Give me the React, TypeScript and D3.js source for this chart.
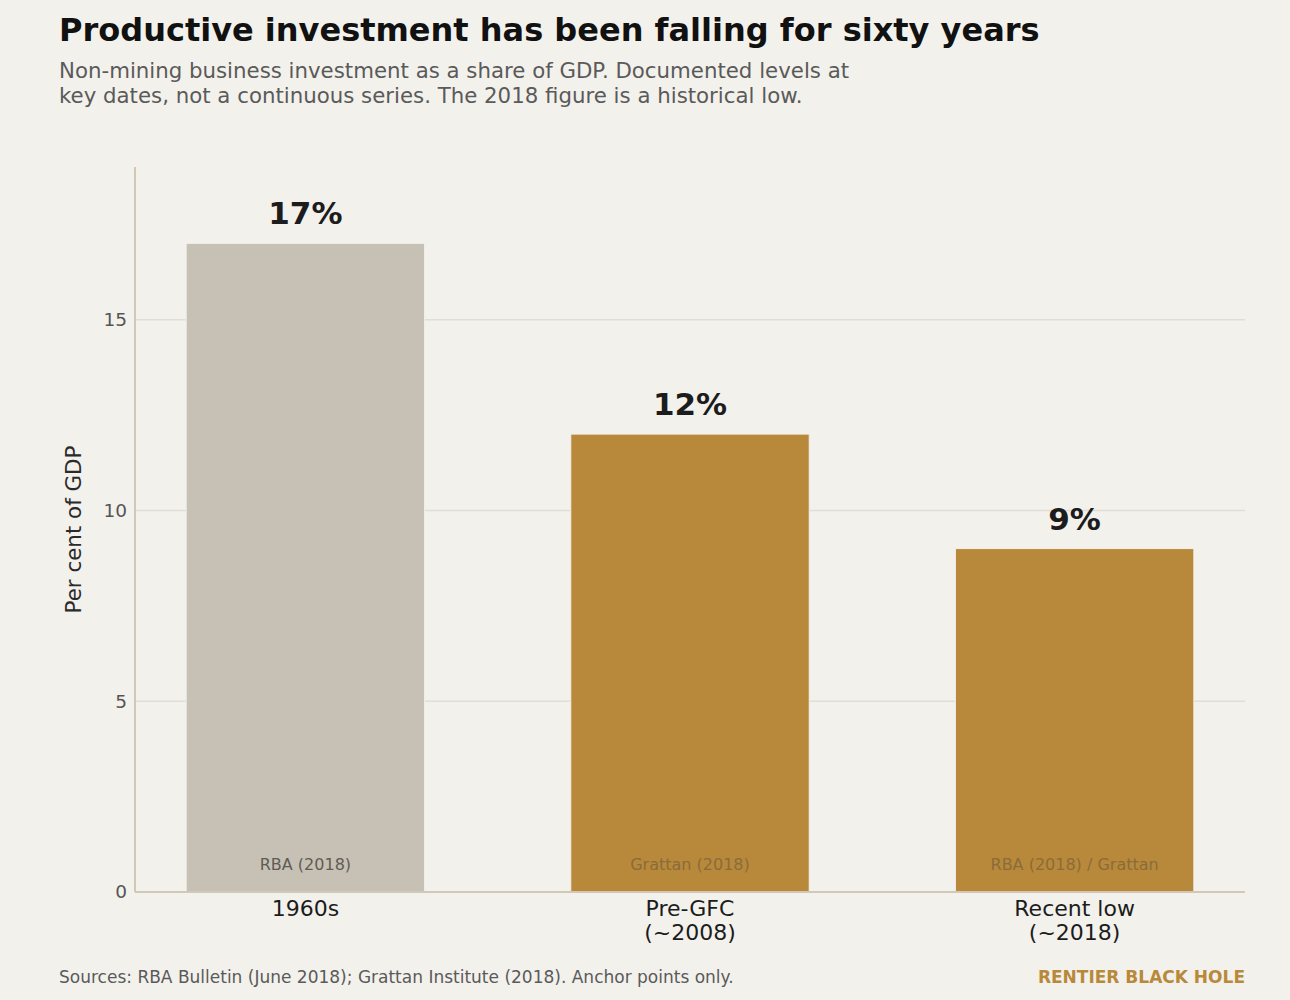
import { useEffect, useRef } from 'react';
import * as d3 from 'd3';

const categories = ['1960s', 'Pre-GFC\n(~2008)', 'Recent low\n(~2018)'];
const values = [17, 12, 9];
const valueLabels = ['17%', '12%', '9%'];
const sources = ['RBA (2018)', 'Grattan (2018)', 'RBA (2018) / Grattan'];
const yTicks = [0, 5, 10, 15];

export default function App() {
  const svgRef = useRef<SVGSVGElement>(null);

  useEffect(() => {
    if (!svgRef.current) return;
    d3.select(svgRef.current).selectAll('*').remove();

    document.body.style.margin = '0';
    document.body.style.background = '#f3f1ec';

    const width = 1290;
    const height = 1000;
    const margin = { top: 167, right: 45, bottom: 108, left: 135 };
    const font = '"DejaVu Sans", sans-serif';

    const svg = d3
      .select(svgRef.current)
      .attr('width', width)
      .attr('height', height)
      .style('display', 'block')
      .style('font-family', font);

    svg.append('rect').attr('width', width).attr('height', height).attr('fill', '#f3f1ec');

    const x = d3
      .scaleBand<number>()
      .domain(d3.range(categories.length))
      .range([margin.left, width - margin.right])
      .paddingInner(0.38)
      .paddingOuter(0.133);

    const y = d3
      .scaleLinear()
      .domain([0, 19])
      .range([height - margin.bottom, margin.top]);

    // gridlines
    svg
      .append('g')
      .selectAll('line')
      .data(yTicks.filter((t) => t > 0))
      .join('line')
      .attr('x1', margin.left)
      .attr('x2', width - margin.right)
      .attr('y1', (d) => y(d))
      .attr('y2', (d) => y(d))
      .attr('stroke', '#e2ded6')
      .attr('stroke-width', 1.5);

    // bars
    svg
      .append('g')
      .selectAll('rect')
      .data(values)
      .join('rect')
      .attr('x', (_, i) => x(i)!)
      .attr('width', x.bandwidth())
      .attr('y', (d) => y(d))
      .attr('height', (d) => y(0) - y(d))
      .attr('fill', (_, i) => (i === 0 ? '#c6c1b4' : '#b8893b'))
      .attr('stroke', '#f3f1ec')
      .attr('stroke-width', 1);

    // value labels
    svg
      .append('g')
      .selectAll('text')
      .data(values)
      .join('text')
      .attr('x', (_, i) => x(i)! + x.bandwidth() / 2)
      .attr('y', (d) => y(d) - 19)
      .attr('text-anchor', 'middle')
      .attr('font-size', 31)
      .attr('font-weight', 'bold')
      .attr('fill', '#1c1c1c')
      .text((_, i) => valueLabels[i]);

    // source labels inside bars
    svg
      .append('g')
      .selectAll('text')
      .data(sources)
      .join('text')
      .attr('x', (_, i) => x(i)! + x.bandwidth() / 2)
      .attr('y', y(0) - 22)
      .attr('text-anchor', 'middle')
      .attr('font-size', 16)
      .attr('fill', (_, i) => (i === 0 ? '#5f5b55' : '#8a6c3a'))
      .text((d) => d);

    // y axis line + baseline
    svg
      .append('line')
      .attr('x1', margin.left)
      .attr('x2', margin.left)
      .attr('y1', margin.top)
      .attr('y2', y(0))
      .attr('stroke', '#d3c7b8')
      .attr('stroke-width', 2);
    svg
      .append('line')
      .attr('x1', margin.left)
      .attr('x2', width - margin.right)
      .attr('y1', y(0))
      .attr('y2', y(0))
      .attr('stroke', '#d3c7b8')
      .attr('stroke-width', 2);

    // y tick labels
    svg
      .append('g')
      .selectAll('text')
      .data(yTicks)
      .join('text')
      .attr('x', margin.left - 8)
      .attr('y', (d) => y(d))
      .attr('dy', '0.35em')
      .attr('text-anchor', 'end')
      .attr('font-size', 18.5)
      .attr('fill', '#555')
      .text((d) => d);

    // y axis title
    svg
      .append('text')
      .attr('transform', `translate(81, ${y(9.5)}) rotate(-90)`)
      .attr('text-anchor', 'middle')
      .attr('font-size', 21.4)
      .attr('fill', '#2a2a2a')
      .text('Per cent of GDP');

    // category labels
    const cat = svg
      .append('g')
      .selectAll('text')
      .data(categories)
      .join('text')
      .attr('x', (_, i) => x(i)! + x.bandwidth() / 2)
      .attr('y', y(0) + 24)
      .attr('text-anchor', 'middle')
      .attr('font-size', 22)
      .attr('fill', '#1c1c1c');
    cat.each(function (d, i) {
      const lines = d.split('\n');
      d3.select(this)
        .selectAll('tspan')
        .data(lines)
        .join('tspan')
        .attr('x', x(i)! + x.bandwidth() / 2)
        .attr('dy', (_, j) => (j === 0 ? 0 : 24))
        .text((l) => l);
    });

    // title and subtitle
    svg
      .append('text')
      .attr('x', 59)
      .attr('y', 41)
      .attr('font-size', 32)
      .attr('font-weight', 'bold')
      .attr('fill', '#111')
      .text('Productive investment has been falling for sixty years');

    svg
      .append('text')
      .attr('x', 59)
      .attr('y', 78)
      .attr('font-size', 21.3)
      .attr('fill', '#5a5a5a')
      .selectAll('tspan')
      .data([
        'Non-mining business investment as a share of GDP. Documented levels at',
        'key dates, not a continuous series. The 2018 figure is a historical low.',
      ])
      .join('tspan')
      .attr('x', 59)
      .attr('dy', (_, j) => (j === 0 ? 0 : 25))
      .text((d) => d);

    // footer
    svg
      .append('text')
      .attr('x', 59)
      .attr('y', 983)
      .attr('font-size', 17)
      .attr('fill', '#5a5a5a')
      .text('Sources: RBA Bulletin (June 2018); Grattan Institute (2018). Anchor points only.');

    svg
      .append('text')
      .attr('x', width - margin.right)
      .attr('y', 983)
      .attr('text-anchor', 'end')
      .attr('font-size', 17)
      .attr('font-weight', 'bold')
      .attr('fill', '#b8893b')
      .text('RENTIER BLACK HOLE');
  }, []);

  return (
    <div>
      <svg ref={svgRef}></svg>
    </div>
  );
}
